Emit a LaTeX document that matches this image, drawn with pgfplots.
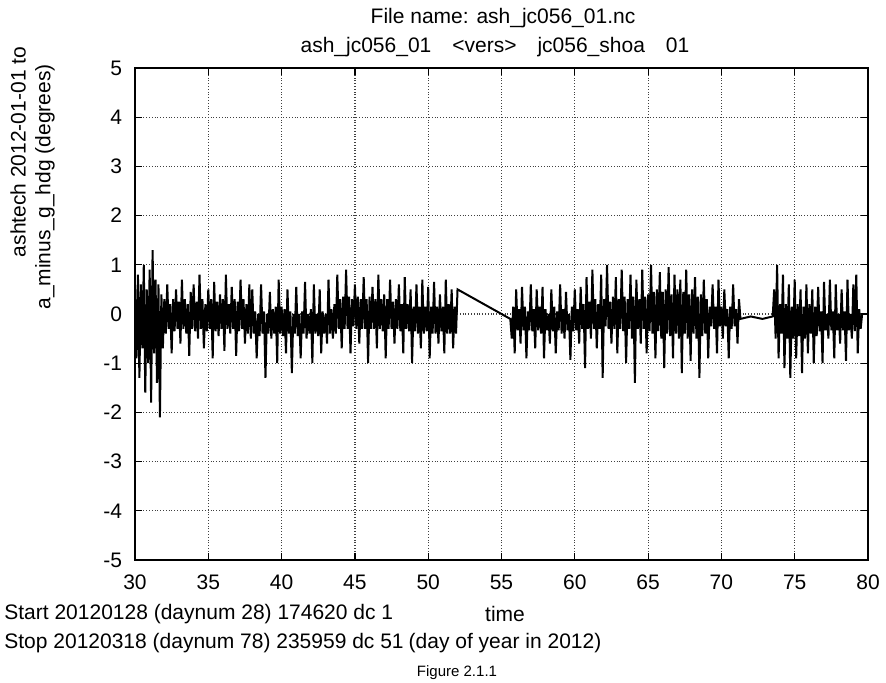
\documentclass[border=0pt]{standalone}
\usepackage{fontspec}
\setmainfont{Liberation Sans}
\usepackage{pgfplots}
\pgfplotsset{compat=1.18}
\begin{document}
\begin{tikzpicture}
\begin{axis}[
  at={(0,0)}, anchor=south west,
  scale only axis, width=366.5pt, height=246pt,
  xmin=30, xmax=80, ymin=-5, ymax=5,
  xtick={30,35,...,80}, ytick={-5,-4,...,5},
  /pgf/number format/assume math mode=true,
  ticklabel style={font=\fontsize{10.5}{12}\selectfont},
  xticklabel style={yshift=-4pt},
  yticklabel style={xshift=-3pt},
  grid=major,
  major grid style={densely dotted, black!75, line width=0.6pt},
  tick align=inside, major tick length=3.5pt,
  tick style={black, line width=0.6pt},
  axis line style={black, line width=1.1pt},
]
\addplot[black, line width=1.0pt, line join=miter, miter limit=2] coordinates {
(30.0,0.5)(30.1,-0.9)(30.2,0.8)(30.3,-1.3)(30.4,0.6)(30.5,-0.7)(30.6,1.0)(30.7,-1.6)(30.8,0.5)(30.9,-1.0)
(31.0,0.9)(31.1,-1.8)(31.2,1.3)(31.3,-0.8)(31.4,0.7)(31.5,-1.4)(31.6,0.6)(31.7,-2.1)(31.8,0.4)(31.9,-0.7)
(32.0,0.3)(32.1,-0.4)(32.2,0.6)(32.3,-0.3)(32.4,0.2)(32.5,-0.8)(32.6,0.3)(32.7,-0.35)(32.8,0.5)(32.9,-0.3)
(33.0,0.25)(33.1,-0.6)(33.2,0.7)(33.3,-0.3)(33.4,0.3)(33.5,-0.4)(33.6,0.2)(33.7,-0.85)(33.8,0.45)(33.9,-0.3)
(34.0,0.6)(34.1,-0.35)(34.2,0.25)(34.3,-0.5)(34.4,0.8)(34.5,-0.3)(34.6,0.3)(34.7,-0.7)(34.8,0.2)(34.9,-0.35)
(35.0,0.5)(35.1,-0.3)(35.2,0.3)(35.3,-0.9)(35.4,0.65)(35.5,-0.35)(35.6,0.25)(35.7,-0.45)(35.8,0.4)(35.9,-0.3)
(36.0,0.3)(36.1,-0.75)(36.2,0.8)(36.3,-0.3)(36.4,0.2)(36.5,-0.4)(36.6,0.55)(36.7,-0.3)(36.8,0.3)(36.9,-0.85)
(37.0,0.25)(37.1,-0.35)(37.2,0.7)(37.3,-0.3)(37.4,0.3)(37.5,-0.6)(37.6,0.2)(37.7,-0.4)(37.8,0.6)(37.9,-0.5)
(38.0,0.5)(38.1,-0.4)(38.2,0.05)(38.3,-0.9)(38.4,0.0)(38.5,-0.45)(38.6,0.6)(38.7,-0.4)(38.8,0.05)(38.9,-1.3)
(39.0,0.0)(39.1,-0.4)(39.2,0.45)(39.3,-0.5)(39.4,0.1)(39.5,-0.4)(39.6,0.15)(39.7,-1.0)(39.8,0.7)(39.9,-0.4)
(40.0,0.15)(40.1,-0.45)(40.2,0.1)(40.3,-0.8)(40.4,0.5)(40.5,-0.4)(40.6,0.05)(40.7,-1.2)(40.8,0.0)(40.9,-0.4)
(41.0,0.55)(41.1,-0.45)(41.2,0.0)(41.3,-0.9)(41.4,0.05)(41.5,-0.4)(41.6,0.65)(41.7,-0.5)(41.8,0.0)(41.9,-0.4)
(42.0,0.1)(42.1,-1.0)(42.2,0.6)(42.3,-0.4)(42.4,0.0)(42.5,-0.45)(42.6,0.5)(42.7,-0.8)(42.8,0.05)(42.9,-0.4)
(43.0,0.0)(43.1,-0.6)(43.2,0.7)(43.3,-0.4)(43.4,0.1)(43.5,-0.5)(43.6,0.2)(43.7,-0.4)(43.8,0.8)(43.9,-0.3)
(44.0,0.3)(44.1,-0.7)(44.2,0.35)(44.3,-0.3)(44.4,0.9)(44.5,-0.3)(44.6,0.35)(44.7,-0.8)(44.8,0.3)(44.9,-0.25)
(45.0,0.6)(45.1,-0.3)(45.2,0.35)(45.3,-0.6)(45.4,0.3)(45.5,-0.3)(45.6,0.75)(45.7,-0.3)(45.8,0.3)(45.9,-1.0)
(46.0,0.35)(46.1,-0.3)(46.2,0.55)(46.3,-0.3)(46.4,0.3)(46.5,-0.7)(46.6,0.8)(46.7,-0.3)(46.8,0.3)(46.9,-0.35)
(47.0,0.4)(47.1,-0.9)(47.2,0.3)(47.3,-0.3)(47.4,0.7)(47.5,-0.3)(47.6,0.25)(47.7,-0.6)(47.8,0.3)(47.9,-0.3)
(48.0,0.6)(48.1,-0.35)(48.2,0.2)(48.3,-0.8)(48.4,0.75)(48.5,-0.3)(48.6,0.2)(48.7,-0.35)(48.8,0.5)(48.9,-1.0)
(49.0,0.15)(49.1,-0.35)(49.2,0.6)(49.3,-0.4)(49.4,0.15)(49.5,-0.7)(49.6,0.7)(49.7,-0.4)(49.8,0.15)(49.9,-0.35)
(50.0,0.55)(50.1,-0.9)(50.2,0.15)(50.3,-0.4)(50.4,0.65)(50.5,-0.4)(50.6,0.15)(50.7,-0.6)(50.8,0.4)(50.9,-0.35)
(51.0,0.15)(51.1,-0.8)(51.2,0.7)(51.3,-0.4)(51.4,0.2)(51.5,-0.4)(51.6,0.5)(51.7,-0.7)(51.8,0.15)(51.9,-0.4)
(52.0,0.5)
(55.6,-0.1)(55.7,-0.5)(55.8,0.15)(55.9,-0.8)(56.0,0.5)(56.1,-0.33)(56.2,0.1)(56.3,-0.6)(56.4,0.55)(56.5,-0.33)
(56.6,0.15)(56.7,-0.9)(56.8,0.05)(56.9,-0.33)(57.0,0.6)(57.1,-0.35)(57.2,0.1)(57.3,-0.7)(57.4,0.5)(57.5,-0.33)
(57.6,0.15)(57.7,-0.4)(57.8,0.55)(57.9,-0.9)(58.0,0.1)(58.1,-0.33)(58.2,0.0)(58.3,-0.6)(58.4,0.5)(58.5,-0.35)
(58.6,0.15)(58.7,-0.8)(58.8,0.05)(58.9,-0.33)(59.0,0.6)(59.1,-0.4)(59.2,0.1)(59.3,-0.5)(59.4,0.45)(59.5,-0.33)
(59.6,0.0)(59.7,-0.93)(59.8,0.15)(59.9,-0.35)(60.0,0.5)(60.1,-0.33)(60.2,0.1)(60.3,-0.6)(60.4,0.55)(60.5,-0.3)
(60.6,0.2)(60.7,-1.1)(60.8,0.75)(60.9,-0.3)(61.0,0.25)(61.1,-0.5)(61.2,0.9)(61.3,-0.3)(61.4,0.3)(61.5,-0.7)
(61.6,0.2)(61.7,-0.3)(61.8,0.8)(61.9,-1.3)(62.0,0.3)(62.1,-0.25)(62.2,1.0)(62.3,-0.3)(62.4,0.25)(62.5,-0.6)
(62.6,0.35)(62.7,-0.3)(62.8,0.75)(62.9,-0.8)(63.0,0.3)(63.1,-0.3)(63.2,0.9)(63.3,-0.35)(63.4,0.35)(63.5,-1.0)
(63.6,0.3)(63.7,-0.3)(63.8,0.8)(63.9,-0.5)(64.0,0.35)(64.1,-1.4)(64.2,0.7)(64.3,-0.3)(64.4,0.3)(64.5,-0.6)
(64.6,0.9)(64.7,-0.3)(64.8,0.35)(64.9,-0.8)(65.0,0.4)(65.1,-0.35)(65.2,1.0)(65.3,-0.4)(65.4,0.45)(65.5,-0.9)
(65.6,0.5)(65.7,-0.35)(65.8,0.85)(65.9,-0.5)(66.0,0.45)(66.1,-1.1)(66.2,0.5)(66.3,-0.4)(66.4,0.95)(66.5,-0.45)
(66.6,0.4)(66.7,-0.9)(66.8,0.8)(66.9,-0.4)(67.0,0.5)(67.1,-0.5)(67.2,0.7)(67.3,-1.2)(67.4,0.45)(67.5,-0.4)
(67.6,0.9)(67.7,-0.5)(67.8,0.4)(67.9,-0.95)(68.0,0.5)(68.1,-0.4)(68.2,0.75)(68.3,-0.5)(68.4,0.35)(68.5,-1.3)
(68.6,0.4)(68.7,-0.45)(68.8,0.7)(68.9,-0.4)(69.0,0.3)(69.1,-0.9)(69.2,0.15)(69.3,-0.25)(69.4,0.6)(69.5,-0.3)
(69.6,0.15)(69.7,-0.8)(69.8,0.7)(69.9,-0.25)(70.0,0.15)(70.1,-0.5)(70.2,0.5)(70.3,-0.25)(70.4,0.1)(70.5,-0.9)
(70.6,0.15)(70.7,-0.3)(70.8,0.6)(70.9,-0.25)(71.0,0.1)(71.1,-0.6)(71.2,0.3)(71.3,-0.1)
(72.0,-0.05)(72.8,-0.1)(73.5,-0.05)
(73.6,0.5)(73.7,-0.5)(73.8,1.0)(73.9,-0.9)(74.0,0.2)(74.1,-0.4)(74.2,0.8)(74.3,-1.1)(74.4,0.2)(74.5,-0.5)
(74.6,0.6)(74.7,-1.3)(74.8,0.15)(74.9,-0.5)(75.0,0.7)(75.1,-0.9)(75.2,0.2)(75.3,-0.45)(75.4,0.5)(75.5,-1.2)
(75.6,0.15)(75.7,-0.5)(75.8,0.6)(75.9,-0.8)(76.0,0.2)(76.1,-0.4)(76.2,0.5)(76.3,-1.0)(76.4,0.15)(76.5,-0.45)
(76.6,0.55)(76.7,-0.35)(76.8,0.05)(76.9,-1.0)(77.0,0.65)(77.1,-0.33)(77.2,0.0)(77.3,-0.5)(77.4,0.7)(77.5,-0.33)
(77.6,0.05)(77.7,-0.9)(77.8,0.6)(77.9,-0.33)(78.0,0.0)(78.1,-0.6)(78.2,0.5)(78.3,-0.33)(78.4,0.05)(78.5,-0.95)
(78.6,0.7)(78.7,-0.33)(78.8,0.0)(78.9,-0.5)(79.0,0.6)(79.1,-0.35)(79.2,0.8)(79.3,-0.8)(79.4,0.1)(79.5,-0.3)
(79.6,0.0)
};
\end{axis}
\begin{scope}[every node/.style={inner sep=0pt, font=\fontsize{10.5}{12}\selectfont}]
\node at (184pt,271pt) {File name: ash\_jc056\_01.nc};
\node at (180pt,256.5pt) {ash\_jc056\_01\quad <vers>\quad jc056\_shoa\quad 01};
\node[rotate=90] at (-58.5pt,204pt) {ashtech 2012-01-01 to};
\node[rotate=90] at (-45pt,186.5pt) {a\_minus\_g\_hdg (degrees)};
\node[anchor=west] at (-65.5pt,-27pt) {Start 20120128 (daynum 28) 174620 dc 1};
\node[anchor=west] at (-65.5pt,-41.5pt) {Stop 20120318 (daynum 78) 235959 dc 51};
\node at (185pt,-27pt) {time};
\node at (185pt,-41.5pt) {(day of year in 2012)};
\node[font=\fontsize{7.5}{9}\selectfont] at (161pt,-56.5pt) {Figure 2.1.1};
\end{scope}
\pgfresetboundingbox
\path[use as bounding box] (-67.5pt,-61.5pt) rectangle (375.5pt,280pt);
\end{tikzpicture}
\end{document}
